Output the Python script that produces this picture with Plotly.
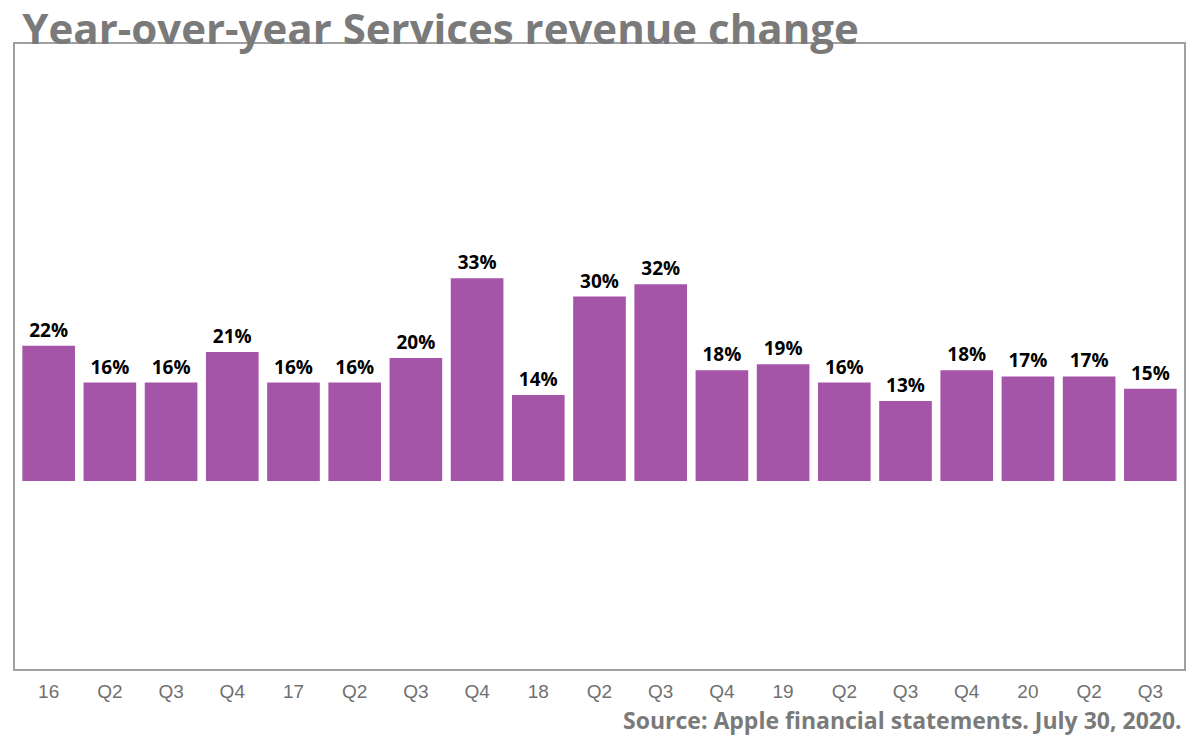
import plotly.graph_objects as go

quarters = ["16", "Q2", "Q3", "Q4", "17", "Q2", "Q3", "Q4", "18", "Q2",
            "Q3", "Q4", "19", "Q2", "Q3", "Q4", "20", "Q2", "Q3"]
growth = [22, 16, 16, 21, 16, 16, 20, 33, 14, 30,
          32, 18, 19, 16, 13, 18, 17, 17, 15]

x_pos = list(range(len(quarters)))

# page has an 8px body margin, so the figure is a bit smaller than the window
fig = go.Figure(go.Bar(
    x=x_pos,
    y=growth,
    text=[f"{v}%" for v in growth],
    textposition="outside",
    textfont=dict(family="Open Sans", size=19, color="black", weight="bold"),
    marker=dict(color="#A455A7", line=dict(width=0)),
    width=0.86,
    cliponaxis=False,
    hoverinfo="skip",
))

fig.update_layout(
    width=1192, height=741,
    margin=dict(l=7, r=16, t=36, b=80),
    paper_bgcolor="white",
    plot_bgcolor="white",
    showlegend=False,
    title=dict(
        text="Year-over-year Services revenue change",
        x=0.012, xanchor="left", y=0.971, yanchor="middle",
        font=dict(family="Open Sans", size=42, color="#7a7a7a", weight="bold"),
    ),
    xaxis=dict(
        tickmode="array", tickvals=x_pos, ticktext=quarters,
        range=[-0.55, len(quarters) - 0.45],
        showline=True, mirror=True, linecolor="#a0a0a0", linewidth=1.5,
        showgrid=False, zeroline=False, ticks="",
        ticklabelstandoff=4,
        tickfont=dict(family="Liberation Sans", size=19, color="#707070"),
    ),
    yaxis=dict(
        range=[-30.6, 71.1],
        showline=True, mirror=True, linecolor="#a0a0a0", linewidth=1.5,
        showgrid=False, zeroline=False, showticklabels=False, ticks="",
    ),
    annotations=[dict(
        text="Source: Apple financial statements. July 30, 2020.",
        xref="paper", yref="paper", x=1.0, y=-0.052,
        xanchor="right", yanchor="top", showarrow=False,
        font=dict(family="Open Sans", size=23, color="#7a7a7a", weight="bold"),
    )],
)

fig.write_html("out.html")
